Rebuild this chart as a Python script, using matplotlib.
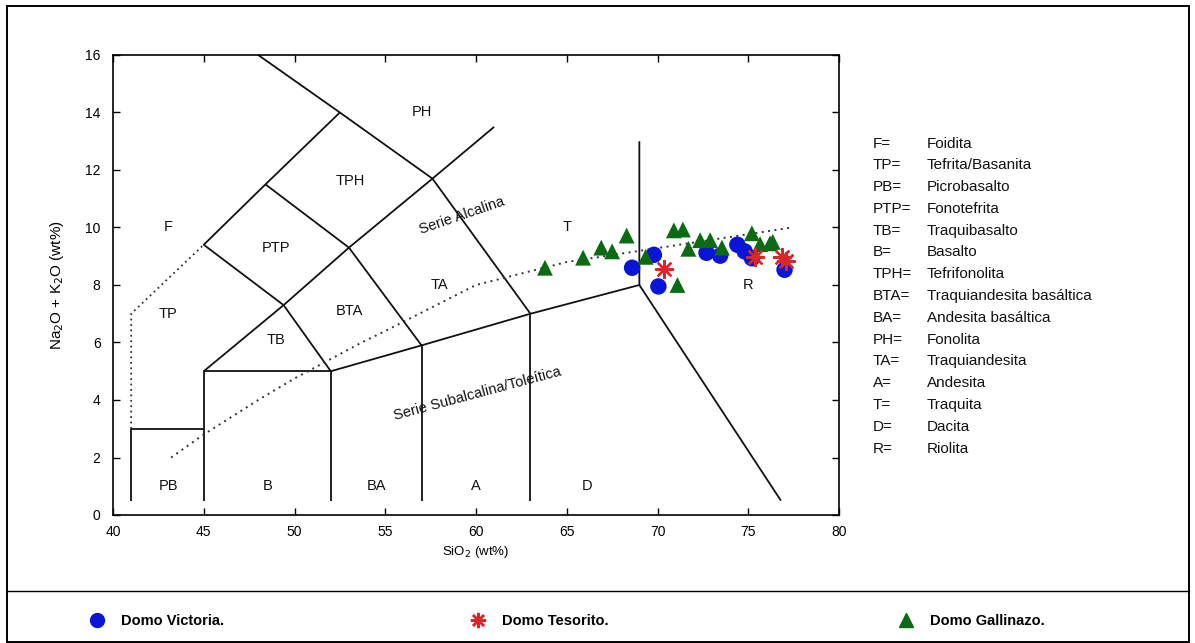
import matplotlib
matplotlib.use("Agg")
import matplotlib.pyplot as plt
from matplotlib.lines import Line2D
from matplotlib.patches import Rectangle

plt.rcParams['font.family'] = ['Liberation Sans', 'DejaVu Sans']

# ---------------- data ----------------
# Domo Victoria (blue circles)
victoria_sio2 = [68.6, 69.8, 70.05, 72.7, 73.45, 74.4, 74.8, 75.2, 77.0]
victoria_alk = [8.6, 9.05, 7.95, 9.12, 9.02, 9.40, 9.17, 8.93, 8.53]
# Domo Tesorito (red asterisks)
tesorito_sio2 = [70.35, 75.35, 76.85, 77.1]
tesorito_alk = [8.57, 8.97, 8.98, 8.85]
# Domo Gallinazo (green triangles)
gallinazo_sio2 = [63.8, 65.9, 66.9, 67.5, 68.3, 69.35, 70.9, 71.4, 71.7, 71.1,
                  72.35, 72.9, 73.55, 75.2, 75.65, 76.2, 76.35]
gallinazo_alk = [8.6, 8.95, 9.3, 9.17, 9.72, 8.98, 9.9, 9.93, 9.26, 8.0,
                 9.56, 9.56, 9.3, 9.8, 9.42, 9.45, 9.5]

# TAS boundary polylines (SiO2, Na2O+K2O)
tas_lines = [
    ([41, 41, 45], [0.5, 3, 3]),
    ([45, 45, 52, 52], [0.5, 5, 5, 0.5]),
    ([52, 57, 63, 69, 69], [5, 5.9, 7, 8, 13]),
    ([57, 57], [5.9, 0.5]),
    ([63, 63], [7, 0.5]),
    ([69, 76.8], [8, 0.5]),
    ([45, 49.4, 53, 57.6, 61], [5, 7.3, 9.3, 11.7, 13.5]),
    ([52, 49.4, 45, 48.4, 52.5, 48.0], [5, 7.3, 9.4, 11.5, 14, 16]),
    ([48.4, 53, 57], [11.5, 9.3, 5.9]),
    ([52.5, 57.6, 63], [14, 11.7, 7]),
]
foidite_dotted_x = [41, 41, 45]
foidite_dotted_y = [3, 7, 9.4]
alkaline_curve_x = [43.2, 45.0, 48.0, 50.0, 53.7, 55.0, 60.0, 65.0, 77.4]
alkaline_curve_y = [2.0, 2.8, 4.0, 4.75, 6.0, 6.4, 8.0, 8.8, 10.0]

region_names = ['F', 'TP', 'PB', 'B', 'BA', 'A', 'D', 'TB', 'BTA', 'PTP',
                'TPH', 'PH', 'TA', 'T', 'R']
region_x = [43.05, 43.05, 43.05, 48.5, 54.5, 60.0, 66.1, 49.0, 53.0, 49.0,
            53.05, 57.0, 58.0, 65.0, 75.0]
region_y = [10.0, 7.0, 1.0, 1.0, 1.0, 1.0, 1.0, 6.1, 7.1, 9.3,
            11.6, 14.0, 8.0, 10.0, 8.0]

abbrevs = ['F=', 'TP=', 'PB=', 'PTP=', 'TB=', 'B=', 'TPH=', 'BTA=', 'BA=',
           'PH=', 'TA=', 'A=', 'T=', 'D=', 'R=']
names = ['Foidita', 'Tefrita/Basanita', 'Picrobasalto', 'Fonotefrita',
         'Traquibasalto', 'Basalto', 'Tefrifonolita',
         'Traquiandesita basáltica', 'Andesita basáltica', 'Fonolita',
         'Traquiandesita', 'Andesita', 'Traquita', 'Dacita', 'Riolita']

x_ticks = [40, 45, 50, 55, 60, 65, 70, 75, 80]
y_ticks = [0, 2, 4, 6, 8, 10, 12, 14, 16]

BLUE = '#0a14d8'
RED = '#d8262a'
GREEN = '#0b6b12'

# ---------------- figure ----------------
W, H = 1195, 643
fig = plt.figure(figsize=(W / 100, H / 100), dpi=100)
ax = fig.add_axes([113 / W, 1 - 515 / H, (839 - 113) / W, (515 - 55) / H])

for xs, ys in tas_lines:
    ax.plot(xs, ys, color='#111111', lw=1.3, solid_capstyle='butt', zorder=2)
ax.plot(foidite_dotted_x, foidite_dotted_y, color='#333333', lw=1.3,
        linestyle=(0, (1, 2.0)), zorder=2)
ax.plot(alkaline_curve_x, alkaline_curve_y, color='#333333', lw=1.4,
        linestyle=(0, (1, 2.3)), zorder=2)

for n, x, y in zip(region_names, region_x, region_y):
    ax.text(x, y, n, ha='center', va='center', fontsize=10.5, color='#111111')

ax.text(59.25, 10.4, 'Serie Alcalina', rotation=19, rotation_mode='anchor',
        ha='center', va='center', fontsize=10.5, color='#111111')
ax.text(60.1, 4.2, 'Serie Subalcalina/Toleítica', rotation=15,
        rotation_mode='anchor', ha='center', va='center', fontsize=10.5,
        color='#111111')

ax.scatter(victoria_sio2, victoria_alk, s=140, marker='o', color=BLUE,
           edgecolors='none', zorder=4)
ax.scatter(gallinazo_sio2, gallinazo_alk, s=130, marker='^', color=GREEN,
           edgecolors='none', zorder=5)
ax.scatter(tesorito_sio2, tesorito_alk, s=150, marker=(8, 2, 0), color=RED,
           linewidths=1.7, zorder=6)

ax.set_xlim(40, 80)
ax.set_ylim(0, 16)
ax.set_xticks(x_ticks)
ax.set_yticks(y_ticks)
ax.tick_params(direction='in', length=5, width=1, top=True, right=True,
               labelsize=10)
ax.tick_params(axis='y', pad=9)
ax.tick_params(axis='x', pad=7)
for sp in ax.spines.values():
    sp.set_linewidth(1.2)
ax.set_xlabel('SiO$_2$ (wt%)', fontsize=9.5)
ax.set_ylabel('Na$_2$O + K$_2$O (wt%)', fontsize=11)
ax.xaxis.set_label_coords(0.5, (515 - 544) / 460)
ax.yaxis.set_label_coords((66 - 113) / 726, 0.5)

# right-hand abbreviation list
for i, (a, n) in enumerate(zip(abbrevs, names)):
    py = 143.5 + i * 21.8
    fig.text(873 / W, 1 - py / H, a, ha='left', va='center', fontsize=11,
             color='#111111')
    fig.text(927 / W, 1 - py / H, n, ha='left', va='center', fontsize=11,
             color='#111111')

# border and separator
fig.add_artist(Rectangle((7 / W, 1 / H), (1189 - 7) / W, (637 - 1) / H,
                         transform=fig.transFigure, fill=False,
                         edgecolor='black', lw=1.4))
fig.add_artist(Line2D([7 / W, 1189 / W], [1 - 591 / H, 1 - 591 / H],
                      transform=fig.transFigure, color='black', lw=1.0))

# bottom legends
legend_font = {'family': ['Liberation Sans Narrow', 'Liberation Sans'],
               'weight': 'bold', 'size': 10.5}
handles = [
    (Line2D([], [], marker='o', color=BLUE, ls='none', markersize=10),
     'Domo Victoria.', 90),
    (Line2D([], [], marker=(8, 2, 0), color=RED, ls='none', markersize=11,
            markeredgewidth=1.8), 'Domo Tesorito.', 471),
    (Line2D([], [], marker='^', color=GREEN, ls='none', markersize=10),
     'Domo Gallinazo.', 899),
]
for h, lab, px in handles:
    fig.legend([h], [lab], loc='center left',
               bbox_to_anchor=(px / W, 1 - 621 / H), frameon=False,
               borderpad=0, borderaxespad=0, handlelength=1,
               handletextpad=1.1, prop=legend_font)

fig.savefig('out.png', dpi=100)
